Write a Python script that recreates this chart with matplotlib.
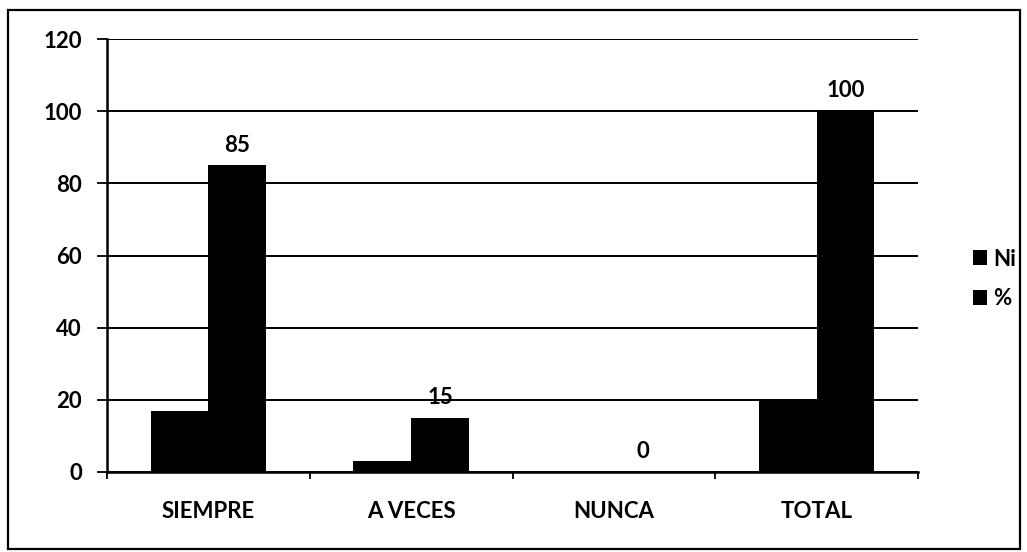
import matplotlib
matplotlib.use("Agg")
import matplotlib.pyplot as plt
import numpy as np
from matplotlib.patches import Rectangle

categories = ["SIEMPRE", "A VECES", "NUNCA", "TOTAL"]
ni_values = [17, 3, 0, 20]
pct_values = [85, 15, 0, 100]
series_names = ["Ni", "%"]
y_ticks = [0, 20, 40, 60, 80, 100, 120]

plt.rcParams['font.family'] = ['Lato', 'DejaVu Sans']
FS = 16

W, H = 1027, 552
fig = plt.figure(figsize=(W / 100, H / 100), dpi=100)
ax_l, ax_r, ax_t, ax_b = 107, 918, 39, 472
ax = fig.add_axes([ax_l / W, 1 - ax_b / H, (ax_r - ax_l) / W, (ax_b - ax_t) / H])

x = np.arange(len(categories))
w = 0.285
ax.bar(x - w / 2, ni_values, w, color="black", label=series_names[0])
ax.bar(x + w / 2, pct_values, w, color="black", label=series_names[1])

for xi, v in zip(x, pct_values):
    ax.annotate(str(v), (xi + w / 2, v), xytext=(0, 7), textcoords="offset points",
                ha="center", va="bottom", fontsize=FS, fontweight="bold")

ax.set_ylim(0, 120)
ax.set_xlim(-0.5, len(categories) - 0.5)
ax.set_yticks(y_ticks)
ax.set_yticklabels([str(t) for t in y_ticks], fontsize=FS, fontweight="bold")
ax.yaxis.grid(True, color="black", linewidth=1.4)
ax.set_axisbelow(True)

ax.set_xticks(np.arange(-0.5, len(categories), 1.0))
ax.set_xticklabels([])
ax.set_xticks(x, minor=True)
ax.set_xticklabels(categories, minor=True, fontsize=FS, fontweight="bold")
ax.tick_params(axis="x", which="minor", length=0, pad=21)
ax.tick_params(axis="x", which="major", length=5, width=1.3, direction="out")
ax.tick_params(axis="y", length=7, width=1.3, direction="out", pad=11)

for s in ["top", "right"]:
    ax.spines[s].set_visible(False)
ax.spines["left"].set_linewidth(1.8)
ax.spines["bottom"].set_linewidth(1.8)

handles, labels = ax.get_legend_handles_labels()
fig.legend(handles, labels, loc="center left", bbox_to_anchor=(953 / W, 1 - 279 / H),
           frameon=False, prop={"size": FS, "weight": "bold"}, handlelength=0.65,
           handleheight=0.65, handletextpad=0.25, labelspacing=0.85)

fig.patches.append(Rectangle((8 / W, 1 - 549 / H), (1020 - 8) / W, (549 - 10) / H,
                             transform=fig.transFigure, fill=False,
                             edgecolor="black", linewidth=1.6))

fig.savefig("out.png", dpi=100)
